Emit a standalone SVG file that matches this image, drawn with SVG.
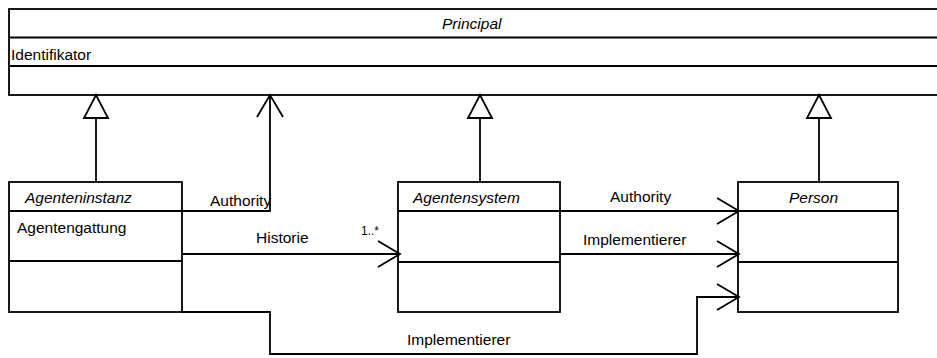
<svg xmlns="http://www.w3.org/2000/svg" width="937" height="358" viewBox="0 0 937 358">
  <style>
    .box { fill: #ffffff; stroke: #000000; stroke-width: 1.8; }
    .div { stroke: #000000; stroke-width: 1.8; }
    .edge { fill: none; stroke: #000000; stroke-width: 1.8; }
    text { font-family: "Liberation Sans", Arial, sans-serif; font-size: 15.5px; fill: #000000; }
    .title { font-style: italic; }
    .mult { font-size: 12px; }
  </style>
  <defs>
    <!-- hollow triangle for generalisation -->
    <marker id="gen" markerUnits="userSpaceOnUse" orient="auto" markerWidth="40" markerHeight="40" refX="0" refY="0" viewBox="-30 -20 40 40" overflow="visible">
      <path d="M0,0 L-23,-12 L-23,12 Z" fill="#ffffff" stroke="#000000" stroke-width="1.8"/>
    </marker>
    <!-- open arrowhead for navigable associations -->
    <marker id="open" markerUnits="userSpaceOnUse" orient="auto" markerWidth="40" markerHeight="40" refX="0" refY="0" viewBox="-30 -20 40 40" overflow="visible">
      <path d="M-22,-13 L0,0 L-22,13" fill="none" stroke="#000000" stroke-width="1.8"/>
    </marker>
  </defs>
  <rect width="937" height="358" fill="#ffffff"/>

  <g id="principal">
    <rect class="box" x="9" y="9" width="940" height="86"/>
    <line class="div" x1="9" y1="37.5" x2="949" y2="37.5"/>
    <line class="div" x1="9" y1="66" x2="949" y2="66"/>
    <text class="title" x="442" y="29">Principal</text>
    <text x="11" y="60">Identifikator</text>
  </g>

  <g id="agenteninstanz">
    <rect class="box" x="9" y="182" width="173" height="130"/>
    <line class="div" x1="9" y1="211" x2="182" y2="211"/>
    <line class="div" x1="9" y1="261" x2="182" y2="261"/>
    <text class="title" x="25" y="203">Agenteninstanz</text>
    <text x="17" y="233">Agentengattung</text>
  </g>

  <g id="agentensystem">
    <rect class="box" x="398" y="182" width="162" height="130"/>
    <line class="div" x1="398" y1="211" x2="560" y2="211"/>
    <line class="div" x1="398" y1="262" x2="560" y2="262"/>
    <text class="title" x="413" y="203">Agentensystem</text>
  </g>

  <g id="person">
    <rect class="box" x="738" y="182" width="160" height="130"/>
    <line class="div" x1="738" y1="211" x2="898" y2="211"/>
    <line class="div" x1="738" y1="262" x2="898" y2="262"/>
    <text class="title" x="789" y="203">Person</text>
  </g>

  <g id="connectors">
    <!-- generalisations -->
    <path class="edge" d="M96,182 V95" marker-end="url(#gen)"/>
    <path class="edge" d="M480,182 V95" marker-end="url(#gen)"/>
    <path class="edge" d="M819,182 V95" marker-end="url(#gen)"/>
    <!-- associations -->
    <path class="edge" d="M182,211 H270 V95" marker-end="url(#open)"/>
    <path class="edge" d="M182,254 H400" marker-end="url(#open)"/>
    <path class="edge" d="M560,211 H739" marker-end="url(#open)"/>
    <path class="edge" d="M560,254 H739" marker-end="url(#open)"/>
    <path class="edge" d="M182,312 H270 V354 H697 V297 H739" marker-end="url(#open)"/>
    <!-- labels -->
    <text x="210" y="206">Authority</text>
    <text x="256" y="243">Historie</text>
    <text class="mult" x="361" y="235">1..*</text>
    <text x="610" y="202">Authority</text>
    <text x="583" y="245">Implementierer</text>
    <text x="407" y="345">Implementierer</text>
  </g>
</svg>
